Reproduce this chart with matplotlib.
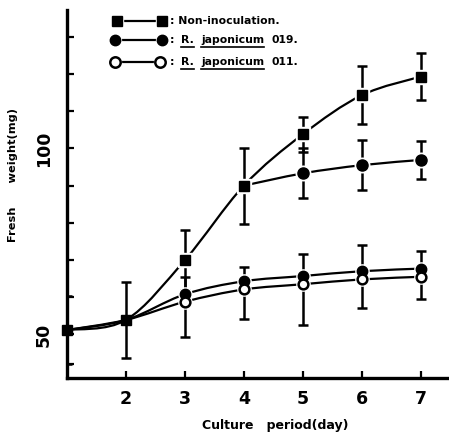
import numpy as np
import matplotlib
matplotlib.use('Agg')
import matplotlib.pyplot as plt
from matplotlib.path import Path
from matplotlib.patches import PathPatch
from matplotlib.lines import Line2D

# data (fresh weight, mg)
days = [1, 2, 3, 4, 5, 6, 7]
non_inoc = [51.2, 53.9, 70.0, 90.0, 103.8, 114.3, 119.3]
non_inoc_sd = [9.2, 10.1, 8.0, 10.2, 4.7, 7.8, 6.3]

days_hi = [4, 5, 6, 7]
filled_hi = [90.0, 93.3, 95.5, 96.9]
filled_hi_sd = [0.0, 6.7, 6.7, 5.0]

days_lo = [1, 2, 3, 4, 5, 6, 7]
r019 = [51.2, 53.9, 60.8, 64.3, 65.7, 67.0, 67.7]
r019_sd = [0.0, 0.0, 4.7, 3.9, 5.9, 7.0, 4.8]          # drawn upward only
r011 = [51.2, 53.9, 58.8, 62.1, 63.5, 64.8, 65.5]
r011_sd = [0.0, 0.0, 9.4, 8.0, 11.0, 7.8, 5.9]         # drawn downward only

xticks = [2, 3, 4, 5, 6, 7]
yticks_major = [50, 100]
yticks_minor = [42, 60, 70, 80, 90, 110, 120, 130]

W, H = 449, 432
fig = plt.figure(figsize=(W / 100, H / 100), dpi=100)
ax = fig.add_axes([67 / W, 1 - 378 / H, 1 - 67 / W, (378 - 10) / H])
ax.set_xlim(1, 7.48)
ax.set_ylim(38.3, 137.2)
for s in ['top', 'right']:
    ax.spines[s].set_visible(False)
for s in ['left', 'bottom']:
    ax.spines[s].set_linewidth(2.4)

bold = dict(fontweight='bold', family='DejaVu Sans')
ax.set_xticks(xticks)
ax.set_xticklabels([str(t) for t in xticks], fontsize=12.5, **bold)
ax.set_yticks(yticks_major)
ax.set_yticklabels([str(t) for t in yticks_major], fontsize=12.5, rotation=90,
                   va='center', **bold)
ax.set_yticks(yticks_minor, minor=True)
ax.tick_params(axis='both', which='both', direction='in', length=5, width=1.6)
ax.tick_params(axis='x', pad=9)
ax.tick_params(axis='y', pad=10)


def smooth(x, y):
    p = np.column_stack([x, y]).astype(float)
    p = np.vstack([p[0], p, p[-1]])
    verts = [p[1]]
    codes = [Path.MOVETO]
    for i in range(1, len(p) - 2):
        c1 = p[i] + (p[i + 1] - p[i - 1]) / 6
        c2 = p[i + 1] - (p[i + 2] - p[i]) / 6
        verts += [c1, c2, p[i + 1]]
        codes += [Path.CURVE4] * 3
    return PathPatch(Path(verts, codes), fill=False, lw=1.6, color='black', zorder=2)


for x, y in [(days, non_inoc), (days_hi, filled_hi), (days_lo, r019), (days_lo, r011)]:
    ax.add_patch(smooth(x, y))

eb = dict(fmt='none', ecolor='black', elinewidth=1.8, capsize=3.5, capthick=1.8, zorder=3)
ax.errorbar(days, non_inoc, yerr=non_inoc_sd, **eb)
ax.errorbar(days_hi[1:], filled_hi[1:], yerr=filled_hi_sd[1:], **eb)
ax.errorbar(days_lo[2:], r019[2:], yerr=[np.zeros(5), r019_sd[2:]], **eb)
ax.errorbar(days_lo[2:], r011[2:], yerr=[r011_sd[2:], np.zeros(5)], **eb)

# white halo so lines stop short of the markers
halo = dict(ls='none', color='white', zorder=4, clip_on=False)
ax.plot(days[2:], non_inoc[2:], marker='s', ms=10.5, **halo)
ax.plot(days_hi[1:], filled_hi[1:], marker='o', ms=10.5, **halo)
ax.plot(days_lo[2:], r019[2:], marker='o', ms=9.5, **halo)
ax.plot(days_lo[2:], r011[2:], marker='o', ms=9.5, **halo)

ax.plot(days_hi[1:], filled_hi[1:], 'o', ms=8, color='black', zorder=5)
ax.plot(days_lo[2:], r019[2:], 'o', ms=7.5, color='black', zorder=5)
ax.plot(days_lo[2:], r011[2:], 'o', ms=7, mfc='white', mec='black', mew=1.8, zorder=6)
ax.plot(days, non_inoc, 's', ms=7.5, color='black', zorder=7, clip_on=False)

fig.text(13 / W, 1 - 175 / H, 'Fresh      weight(mg)', rotation=90, ha='center',
         va='center', fontsize=8.2, **bold)
fig.text(275 / W, 1 - 425 / H, 'Culture   period(day)', ha='center', va='center',
         fontsize=9, **bold)


# legend drawn by hand (underlined species names)
def fx(px):
    return px / W


def fy(py):
    return 1 - py / H


rows = [(21, 's', 'black', 117, 162), (40, 'o', 'black', 115, 162), (62, 'o', 'white', 115, 160)]
for y, m, fc, x0, x1 in rows:
    fig.add_artist(Line2D([fx(x0), fx(x1)], [fy(y), fy(y)], lw=1.6, color='black'))
    fig.add_artist(Line2D([fx(x0 - 1), fx(x1 + 1)], [fy(y), fy(y)], ls='none', marker=m,
                          ms=10, color='white'))
    fig.add_artist(Line2D([fx(x0), fx(x1)], [fy(y), fy(y)], ls='none', marker=m,
                          ms=7.5, mfc=fc, mec='black',
                          mew=1.8 if fc == 'white' else 1))

lt = dict(ha='left', va='center', fontsize=7.8, **bold)
fig.text(fx(170), fy(21), ': Non-inoculation.', **lt)
under = []
for y in (40, 62):
    fig.text(fx(170), fy(y), ':', **lt)
    under.append(fig.text(fx(181), fy(y), 'R.', **lt))
    under.append(fig.text(fx(201), fy(y), 'japonicum', **lt))
fig.text(fx(272), fy(40), '019.', **lt)
fig.text(fx(272), fy(62), '011.', **lt)

fig.canvas.draw()
r = fig.canvas.get_renderer()
for t in under:
    bb = t.get_window_extent(r)
    yy = (bb.y0 - 2) / H
    fig.add_artist(Line2D([bb.x0 / W, bb.x1 / W], [yy, yy], lw=1.2, color='black'))

fig.savefig('out.png', dpi=100)
